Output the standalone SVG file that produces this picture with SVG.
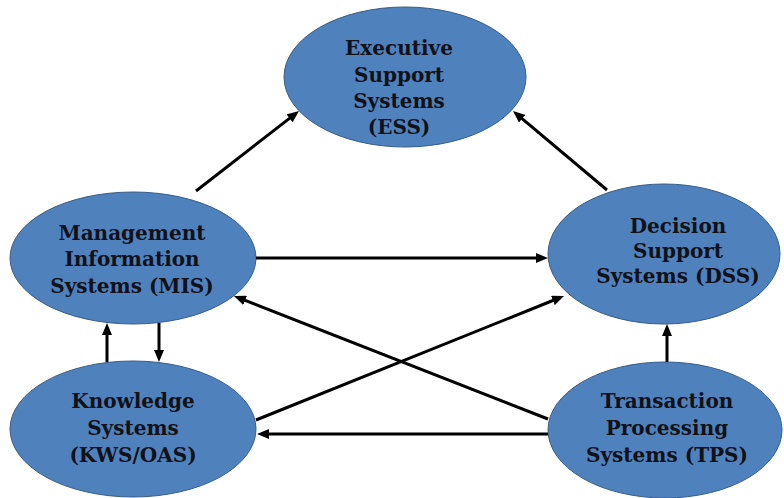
<svg xmlns="http://www.w3.org/2000/svg" width="784" height="498" viewBox="0 0 784 498">
  <style>
    .node ellipse { fill: #4f81bd; stroke: #385d8a; stroke-width: 1; }
    .node text { font-family: "DejaVu Serif", "Liberation Serif", serif; font-weight: bold; font-size: 20px; fill: #111118; text-anchor: middle; }
    .conn line { stroke: #000; stroke-width: 3; fill: none; marker-end: url(#arrow); }
  </style>
  <defs>
    <marker id="arrow" markerUnits="userSpaceOnUse" markerWidth="12" markerHeight="10" viewBox="0 0 12 10" refX="4" refY="5" orient="auto">
      <path d="M0,0 L12,5 L0,10 z" fill="#000"/>
    </marker>
  </defs>
  <rect width="784" height="498" fill="#fff"/>

  <g id="ess" class="node">
    <ellipse cx="405" cy="77" rx="121" ry="70"/>
    <text x="399" y="55">Executive</text>
    <text x="399" y="82">Support</text>
    <text x="399" y="108">Systems</text>
    <text x="399" y="134">(ESS)</text>
  </g>
  <g id="mis" class="node">
    <ellipse cx="133" cy="258" rx="123" ry="66"/>
    <text x="132" y="240">Management</text>
    <text x="132" y="266">Information</text>
    <text x="132" y="293">Systems (MIS)</text>
  </g>
  <g id="dss" class="node">
    <ellipse cx="664" cy="254" rx="116" ry="70"/>
    <text x="678" y="233">Decision</text>
    <text x="678" y="258">Support</text>
    <text x="678" y="283">Systems (DSS)</text>
  </g>
  <g id="kws" class="node">
    <ellipse cx="133" cy="429" rx="123" ry="68"/>
    <text x="133" y="408">Knowledge</text>
    <text x="133" y="435">Systems</text>
    <text x="133" y="462">(KWS/OAS)</text>
  </g>
  <g id="tps" class="node">
    <ellipse cx="665" cy="430" rx="117" ry="68"/>
    <text x="667" y="408">Transaction</text>
    <text x="667" y="435">Processing</text>
    <text x="667" y="462">Systems (TPS)</text>
  </g>

  <g id="connectors" class="conn">
    <line x1="196" y1="191" x2="292.7" y2="115.9"/>
    <line x1="607" y1="190" x2="519.1" y2="116.1"/>
    <line x1="256" y1="258" x2="540" y2="258"/>
    <line x1="548" y1="419" x2="241.4" y2="298.9"/>
    <line x1="256" y1="420" x2="556.6" y2="299"/>
    <line x1="548" y1="434" x2="265" y2="434"/>
    <line x1="107" y1="362" x2="107" y2="331"/>
    <line x1="159" y1="323" x2="159" y2="354"/>
    <line x1="667" y1="362" x2="667" y2="332"/>
  </g>
</svg>
